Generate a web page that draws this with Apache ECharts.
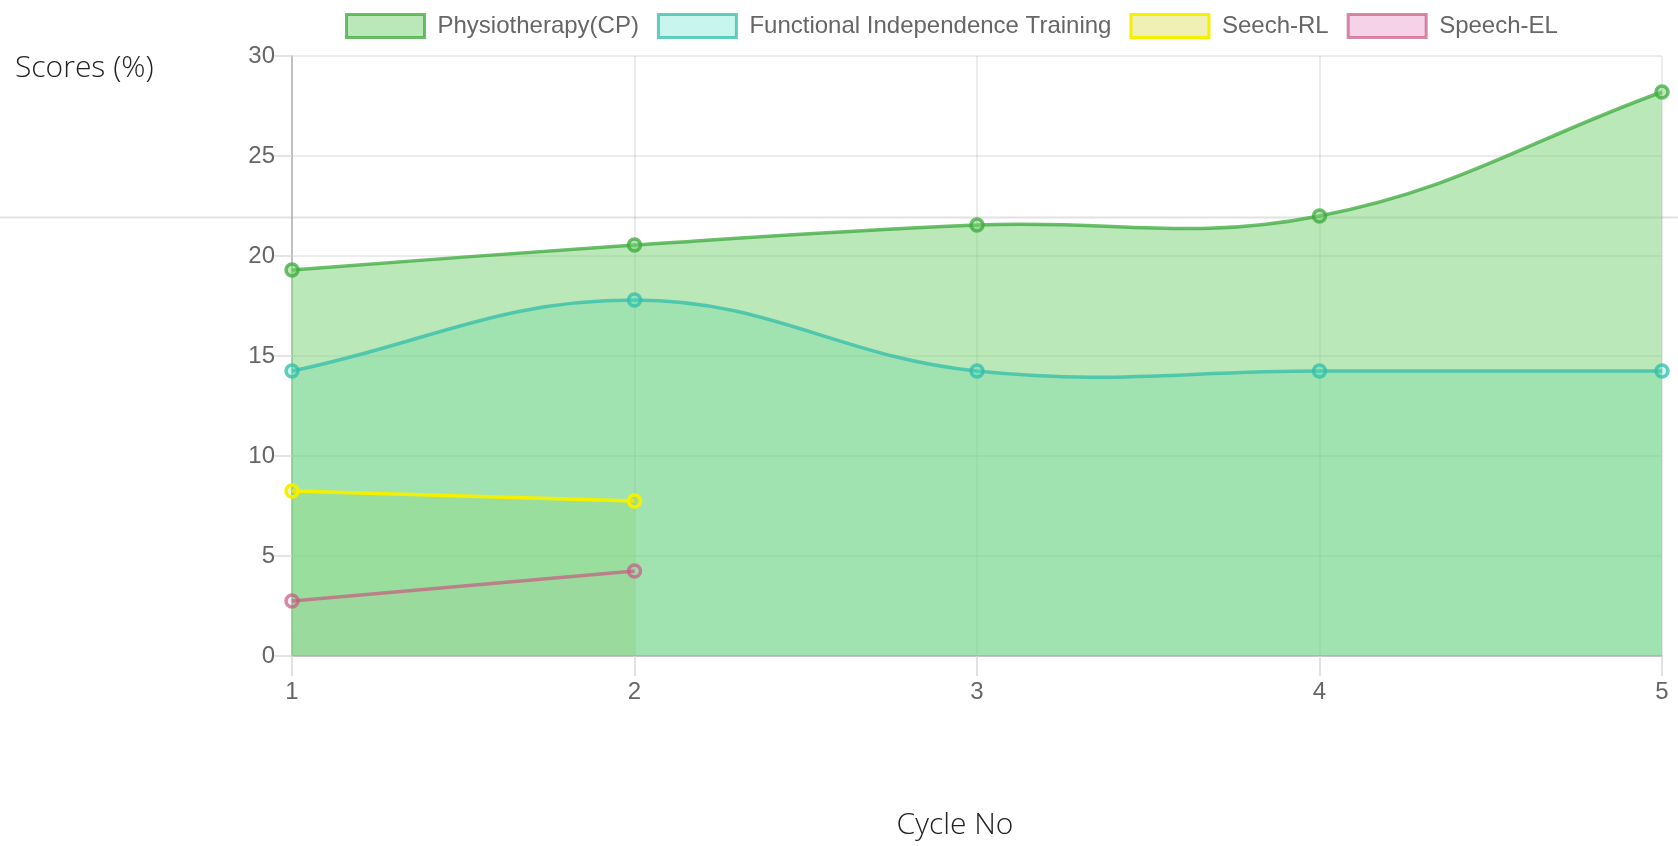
<!DOCTYPE html>
<html>
<head>
<meta charset="utf-8">
<script src="https://cdn.jsdelivr.net/npm/echarts@6/dist/echarts.min.js"></script>
<style>
  html, body { margin: 0; padding: 0; background: #fff; overflow: hidden; }
  #chart { width: 1678px; height: 846px; }
</style>
</head>
<body>
<div id="chart"></div>
<script>
// ---- data ----
const categories = ['1', '2', '3', '4', '5'];
const physio = [19.3, 20.55, 21.55, 22.0, 28.2];
const fit = [14.25, 17.8, 14.25, 14.25, 14.25];
const seechRL = [8.25, 7.75];
const speechEL = [2.75, 4.25];
const seriesNames = ['Physiotherapy(CP)', 'Functional Independence Training', 'Seech-RL', 'Speech-EL'];
const yTitle = 'Scores (%)';
const xTitle = 'Cycle No';

// ---- styles ----
const FONT = '"Liberation Sans", Arial, Helvetica, sans-serif';
const TITLE_FONT = '300 30px "Open Sans", sans-serif';
const TENSION = 0.4;
const styles = [
  { fill: 'rgba(119,209,115,0.5)', line: 'rgba(60,170,60,0.75)' },
  { fill: 'rgba(72,222,199,0.3)', line: 'rgba(50,190,170,0.75)' },
  { fill: 'rgba(190,200,20,0.22)', legendFill: 'rgba(205,205,5,0.3)', line: 'rgb(245,240,0)' },
  { fill: 'rgba(222,105,178,0.12)', legendFill: 'rgba(222,105,178,0.3)', line: 'rgba(200,90,130,0.7)' }
];
const dataSets = [physio, fit, seechRL, speechEL];

// cardinal spline (tension-based) through pixel points
function splinePath(pts, t) {
  const n = pts.length;
  const cps = [];
  for (let i = 0; i < n; i++) {
    const prev = pts[i - 1] || pts[i], cur = pts[i], next = pts[i + 1] || pts[i];
    const d01 = Math.hypot(cur[0] - prev[0], cur[1] - prev[1]);
    const d12 = Math.hypot(next[0] - cur[0], next[1] - cur[1]);
    let s01 = d01 / (d01 + d12), s12 = d12 / (d01 + d12);
    if (!isFinite(s01)) s01 = 0;
    if (!isFinite(s12)) s12 = 0;
    const fa = t * s01, fb = t * s12;
    cps.push({
      px: cur[0] - fa * (next[0] - prev[0]), py: cur[1] - fa * (next[1] - prev[1]),
      nx: cur[0] + fb * (next[0] - prev[0]), ny: cur[1] + fb * (next[1] - prev[1])
    });
  }
  let d = 'M' + pts[0][0] + ',' + pts[0][1];
  for (let i = 1; i < n; i++) {
    d += ' C' + cps[i - 1].nx + ',' + cps[i - 1].ny + ' ' + cps[i].px + ',' + cps[i].py + ' ' + pts[i][0] + ',' + pts[i][1];
  }
  return d;
}

function makeCurveSeries(values, style, kind, z) {
  return {
    type: 'custom',
    coordinateSystem: 'cartesian2d',
    silent: true,
    z: z,
    data: values.map((v, k) => [k, v]),
    encode: { x: 0, y: 1 },
    renderItem: function (params, api) {
      if (params.dataIndex !== 0) return null;
      const pts = values.map((v, k) => api.coord([k, v]));
      let d = splinePath(pts, TENSION);
      if (kind === 'area') {
        const base = api.coord([0, 0])[1];
        d += ' L' + pts[pts.length - 1][0] + ',' + base + ' L' + pts[0][0] + ',' + base + ' Z';
        return { type: 'path', shape: { pathData: d }, style: { fill: style.fill, stroke: null } };
      }
      return { type: 'path', shape: { pathData: d }, style: { fill: null, stroke: style.line, lineWidth: 3.5 } };
    }
  };
}

const areaSeries = [], curveSeries = [], pointSeries = [];
for (let i = dataSets.length - 1; i >= 0; i--) {
  areaSeries.push(makeCurveSeries(dataSets[i], styles[i], 'area', 1));
  curveSeries.push(makeCurveSeries(dataSets[i], styles[i], 'line', 3));
  pointSeries.push({
    type: 'line',
    name: seriesNames[i],
    data: dataSets[i],
    symbol: 'circle',
    symbolSize: 12,
    z: 4,
    itemStyle: { color: styles[i].fill, borderColor: styles[i].line, borderWidth: 3.5 },
    lineStyle: { width: 0, opacity: 0 },
    emphasis: { disabled: true }
  });
}

const chart = echarts.init(document.getElementById('chart'));
chart.setOption({
  animation: false,
  legend: {
    left: 345,
    top: 13,
    padding: 0,
    icon: 'rect',
    itemWidth: 78,
    itemHeight: 23,
    itemGap: 18,
    selectedMode: false,
    textStyle: { fontFamily: FONT, fontSize: 24, color: '#666', padding: [0, 0, 0, 8] },
    data: seriesNames.map((n, i) => ({
      name: n,
      itemStyle: { color: styles[i].legendFill || styles[i].fill, borderColor: styles[i].line, borderWidth: 3 }
    }))
  },
  graphic: [
    {
      type: 'line', z: 0, silent: true,
      shape: { x1: 0, y1: 217.5, x2: 1678, y2: 217.5 },
      style: { stroke: '#e2e2e2', lineWidth: 2 }
    },
    {
      type: 'text', silent: true, x: 15, y: 68,
      style: { text: yTitle, font: TITLE_FONT, fill: '#222', textAlign: 'left', textVerticalAlign: 'middle' }
    },
    {
      type: 'text', silent: true, x: 955, y: 825,
      style: { text: xTitle, font: TITLE_FONT, fill: '#222', textAlign: 'center', textVerticalAlign: 'middle' }
    }
  ],
  grid: { left: 292, right: 16, top: 56, bottom: 190, containLabel: false, outerBoundsMode: 'none' },
  xAxis: {
    type: 'category',
    data: categories,
    boundaryGap: false,
    axisLine: { show: true, lineStyle: { color: '#b8b8b8', width: 1.5 } },
    axisTick: { show: true, length: 20, lineStyle: { color: '#d8d8d8', width: 1.5 } },
    axisLabel: { fontFamily: FONT, fontSize: 24, color: '#666', margin: 24 },
    splitLine: { show: true, lineStyle: { color: 'rgba(0,0,0,0.1)', width: 1.5 } }
  },
  yAxis: {
    type: 'value',
    min: 0,
    max: 30,
    interval: 5,
    axisLine: { show: true, lineStyle: { color: '#b0b0b0', width: 1.5 } },
    axisTick: { show: true, length: 19, lineStyle: { color: '#dcdcdc', width: 1.5 } },
    axisLabel: { fontFamily: FONT, fontSize: 24, color: '#666', margin: 17 },
    splitLine: { show: true, lineStyle: { color: 'rgba(0,0,0,0.1)', width: 1.5 } }
  },
  series: areaSeries.concat(curveSeries, pointSeries)
});
</script>
</body>
</html>
